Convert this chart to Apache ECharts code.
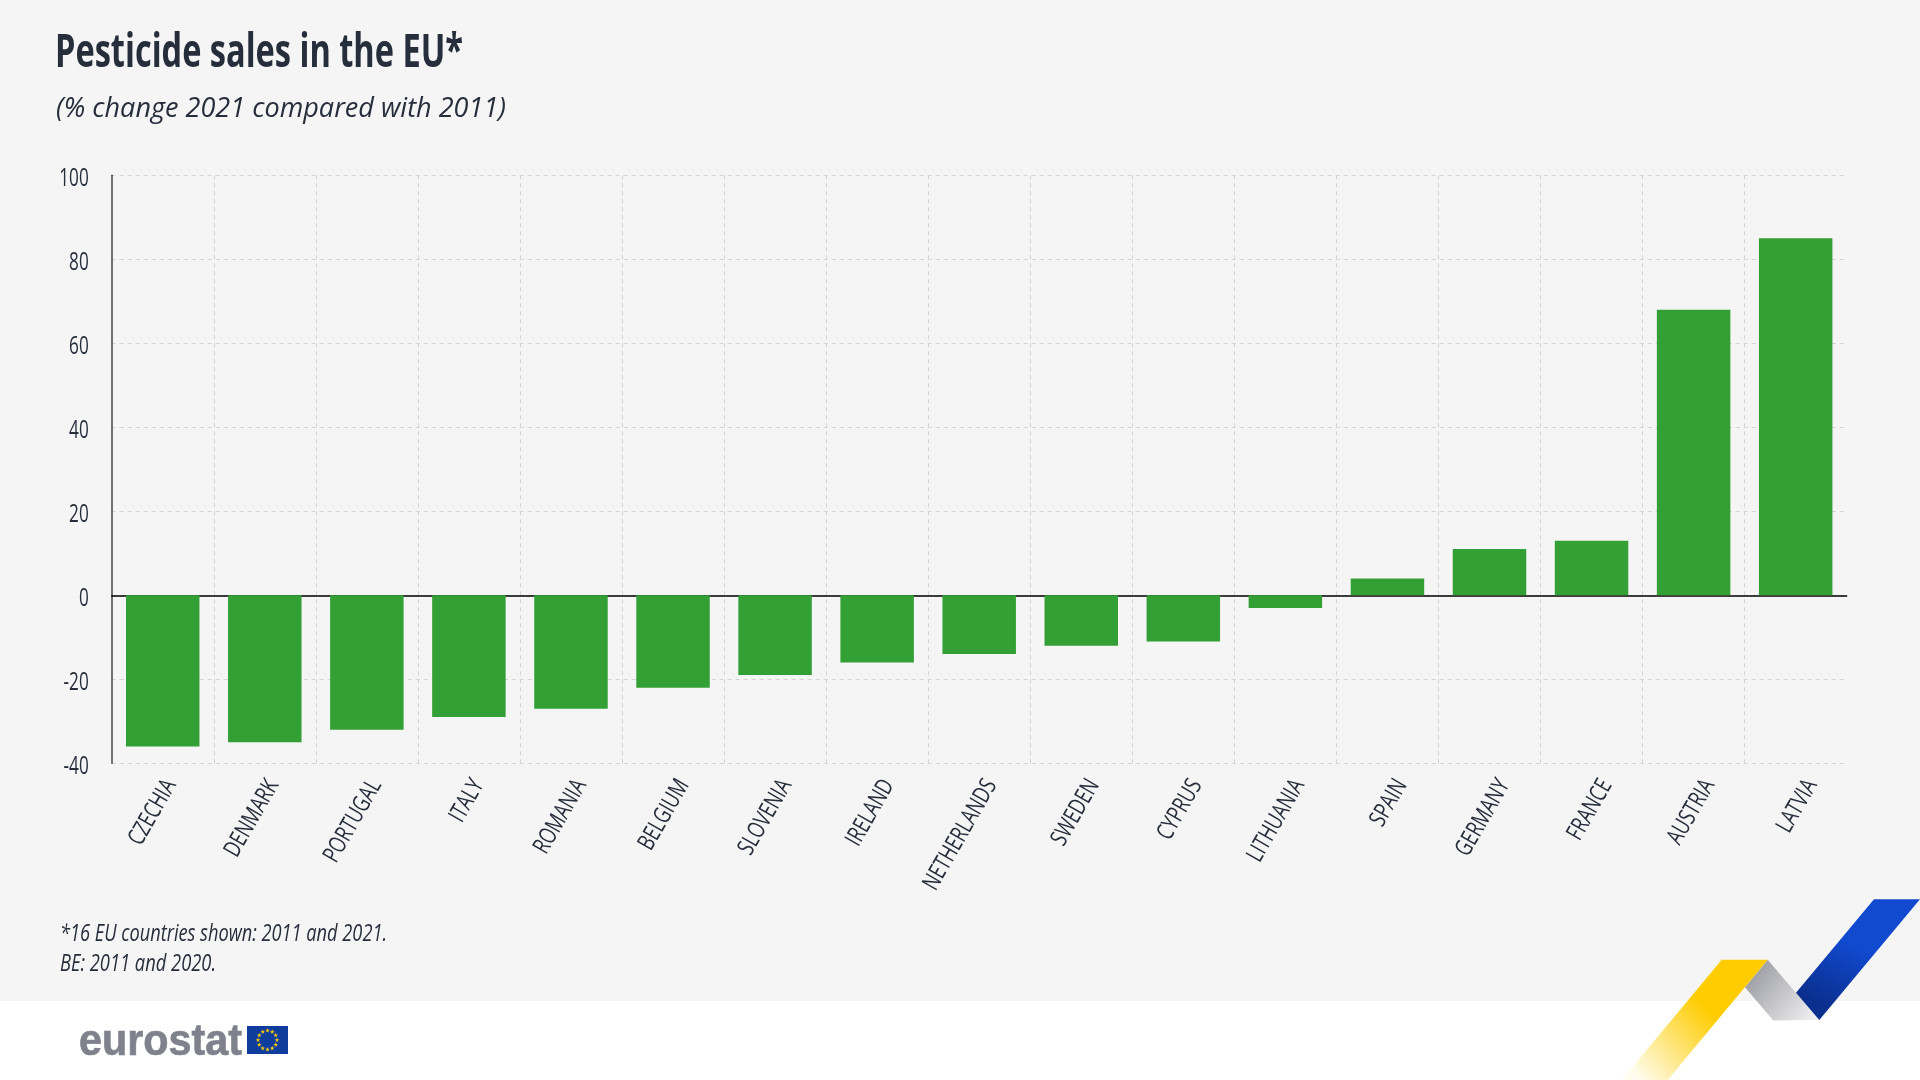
<!DOCTYPE html>
<html>
<head>
<meta charset="utf-8">
<title>Pesticide sales in the EU</title>
<script src="https://cdn.jsdelivr.net/npm/echarts@6/dist/echarts.min.js"></script>
<style>
html,body{margin:0;padding:0;background:#fff;}
#main{width:1920px;height:1080px;}
</style>
</head>
<body>
<div id="main"></div>
<script>
var categories = ['CZECHIA','DENMARK','PORTUGAL','ITALY','ROMANIA','BELGIUM','SLOVENIA','IRELAND','NETHERLANDS','SWEDEN','CYPRUS','LITHUANIA','SPAIN','GERMANY','FRANCE','AUSTRIA','LATVIA'];
var changes = [-36,-35,-32,-29,-27,-22,-19,-16,-14,-12,-11,-3,4,11,13,68,85];

var titleText = 'Pesticide sales in the EU*';
var subtitleText = '(% change 2021 compared with 2011)';
var noteLines = ['*16 EU countries shown: 2011 and 2021.','BE: 2011 and 2020.'];

var fontName = '"Open Sans"';
var ink = '#262d3b';
var grid = '#d4d4d4';

var measure = document.createElement('canvas').getContext('2d');

// no condensed font is installed, so the text is squeezed to the width it has in the picture
function label(text,x,y,font,width){
    measure.font = font;
    return {
        type:'text', x:x, y:y, scaleX:width/measure.measureText(text).width, z:10,
        style:{text:text, font:font, fill:ink, textAlign:'left', textVerticalAlign:'bottom'}
    };
}

// the 12 stars of the flag in the logo
function flagStars(cx,cy,r,size){
    var out = [];
    for(var i=0;i<12;i++){
        var a = i*Math.PI/6;
        var px = cx+r*Math.sin(a), py = cy-r*Math.cos(a), pts = [];
        for(var k=0;k<10;k++){
            var b = k*Math.PI/5, d = k%2 ? size*0.42 : size;
            pts.push([px+d*Math.sin(b),py-d*Math.cos(b)]);
        }
        out.push({type:'polygon',z:11,shape:{points:pts},style:{fill:'#ffcc00'}});
    }
    return out;
}

function fade(x,y,x2,y2,stops){
    return new echarts.graphic.LinearGradient(x,y,x2,y2,stops);
}

var logoFont = 'bold 45px "Liberation Sans"';
var logo = label('eurostat',79,1065,logoFont,163);
logo.style.fill = '#7f828c';
logo.style.stroke = '#7f828c';
logo.style.lineWidth = 0.7;

var graphics = [
    // grey panel and white footer
    {type:'rect',z:-10,shape:{x:0,y:0,width:1920,height:1001},style:{fill:'#f5f5f5'}},
    label(titleText,55,77,'bold 47px '+fontName,408),
    label(subtitleText,56,123.5,'italic 28px '+fontName,450),
    label(noteLines[0],60,946,'italic 24px '+fontName,327),
    label(noteLines[1],60,976,'italic 24px '+fontName,156),
    // logo
    logo,
    {type:'rect',z:10,shape:{x:247,y:1026,width:41,height:28},style:{fill:'#0f3d9e'}},
    // ribbon
    {type:'polygon',z:9,shape:{points:[[1767.7,959.7],[1819.3,1020],[1773.3,1020.5],[1745,987.3]]},
        style:{fill:fade(0,0,1,1,[{offset:0,color:'#8f9098'},{offset:1,color:'#f6f6f6'}])}},
    {type:'polygon',z:9,shape:{points:[[1874,899.3],[1920,899.3],[1819.3,1020],[1796,992.7]]},
        style:{fill:fade(0.6,0.45,0.35,0.95,[{offset:0,color:'#1149cf'},{offset:1,color:'#0a2f8e'}])}},
    {type:'polygon',z:9,shape:{points:[[1721.7,959.7],[1767.7,959.7],[1667.7,1080],[1621.7,1080]]},
        style:{fill:fade(0.62,0.45,0.12,1,[{offset:0,color:'#ffcc00'},{offset:1,color:'#fffdf0'}])}}
].concat(flagStars(267.5,1040,9.5,2.4));

var chart = echarts.init(document.getElementById('main'),null,{renderer:'canvas'});
chart.setOption({
    animation:false,
    backgroundColor:'#ffffff',
    graphic:graphics,
    grid:{left:111.7,width:1735,top:175.3,height:588,containLabel:false},
    xAxis:[
        {
            type:'category',data:categories,position:'bottom',
            axisLine:{show:false,onZero:false},axisTick:{show:false},
            axisLabel:{interval:0,rotate:60,margin:18,fontSize:24,fontFamily:fontName,color:ink},
            splitLine:{show:true,interval:0,showMinLine:false,showMaxLine:false,lineStyle:{color:grid,type:[4,4],width:1}}
        },
        {
            type:'category',data:categories,position:'bottom',
            axisLine:{show:true,onZero:true,lineStyle:{color:'#000000',width:1.5}},
            axisTick:{show:false},axisLabel:{show:false},splitLine:{show:false}
        }
    ],
    yAxis:{
        type:'value',min:-40,max:100,interval:20,
        axisLine:{show:true,onZero:false,lineStyle:{color:'#444444',width:1.5}},axisTick:{show:false},
        axisLabel:{margin:23,fontSize:26,fontFamily:fontName,color:ink},
        splitLine:{show:true,lineStyle:{color:grid,type:[4,4],width:1}}
    },
    series:[{
        type:'bar',data:changes,xAxisIndex:0,barWidth:'72%',
        itemStyle:{color:'#33a035'}
    }]
});

// same squeeze for the axis labels, which the axes have already placed
chart.getZr().storage.getRoots().forEach(function(root){
    if(!root.traverse) return;
    root.traverse(function(el){
        if(el.type!=='text' || !el.style) return;
        var idx = categories.indexOf(el.style.text);
        if(idx>=0){
            el.attr({scaleX:0.74,x:el.x+8+idx*0.5});
        }else if(/^-?\d+$/.test(el.style.text)){
            el.attr({scaleX:0.66,y:el.y+3});
        }
    });
});
chart.getZr().refresh();
</script>
</body>
</html>
